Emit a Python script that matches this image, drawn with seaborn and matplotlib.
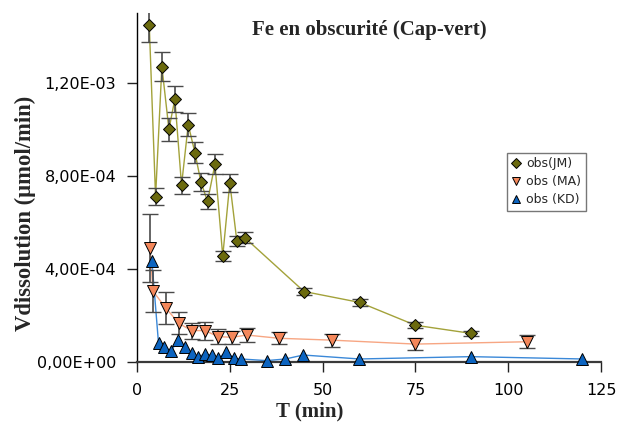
import matplotlib
matplotlib.use("Agg")
import matplotlib.pyplot as plt
import seaborn as sns
import pandas as pd
from matplotlib.ticker import FuncFormatter

# --- data (T in min, dissolution rate in µmol/min) ---
t_jm = [3.3, 5.0, 6.7, 8.6, 10.2, 12.0, 13.8, 15.6, 17.2, 19.0, 21.0, 23.1, 25.0, 26.9, 29.0, 45, 60, 75, 90]
v_jm = [14.5e-4, 7.1e-4, 12.7e-4, 10.0e-4, 11.3e-4, 7.6e-4, 10.2e-4, 9.0e-4, 7.75e-4, 6.9e-4,
        8.5e-4, 4.55e-4, 7.7e-4, 5.2e-4, 5.35e-4, 3.03e-4, 2.56e-4, 1.58e-4, 1.23e-4]
e_jm = [0.73e-4, 0.37e-4, 0.62e-4, 0.5e-4, 0.55e-4, 0.37e-4, 0.49e-4, 0.45e-4, 0.39e-4, 0.34e-4,
        0.42e-4, 0.22e-4, 0.4e-4, 0.23e-4, 0.24e-4, 0.17e-4, 0.15e-4, 0.13e-4, 0.11e-4]

t_ma = [3.5, 4.3, 7.7, 11.3, 14.7, 18.3, 21.9, 25.7, 29.5, 38.2, 52.4, 75.0, 105.0]
v_ma = [4.9e-4, 3.05e-4, 2.33e-4, 1.66e-4, 1.35e-4, 1.35e-4, 1.09e-4, 1.06e-4, 1.16e-4, 1.02e-4,
        0.94e-4, 0.77e-4, 0.87e-4]
e_ma = [1.48e-4, 0.9e-4, 0.69e-4, 0.47e-4, 0.34e-4, 0.39e-4, 0.32e-4, 0.29e-4, 0.32e-4, 0.26e-4,
        0.28e-4, 0.25e-4, 0.27e-4]

t_kd = [4.0, 5.8, 7.4, 9.2, 11.1, 12.9, 14.7, 16.5, 18.3, 20.1, 21.9, 24.1, 26.1, 28.0, 34.9,
        40.0, 44.8, 59.9, 89.9, 120.0]
v_kd = [4.35e-4, 0.8e-4, 0.63e-4, 0.48e-4, 0.94e-4, 0.65e-4, 0.37e-4, 0.23e-4, 0.34e-4, 0.3e-4,
        0.16e-4, 0.44e-4, 0.16e-4, 0.13e-4, 0.06e-4, 0.13e-4, 0.3e-4, 0.13e-4, 0.23e-4, 0.13e-4]

x_ticks = [0, 25, 50, 75, 100, 125]
y_ticks = [0, 4e-4, 8e-4, 12e-4]

sns.set_theme(style="ticks")
plt.rcParams["font.family"] = ["DejaVu Sans"]

fig = plt.figure(figsize=(6.17, 4.23), dpi=100)
ax = fig.add_axes([137 / 617, 1 - 362 / 423, 464 / 617, 349 / 423])

series = [
    ("obs(JM)", t_jm, v_jm, e_jm, "D", "#6b6a0e", "#a3a23a", 6.2),
    ("obs (MA)", t_ma, v_ma, e_ma, "v", "#f4875a", "#f7a683", 8.0),
    ("obs (KD)", t_kd, v_kd, None, "^", "#0c64c0", "#3a88d8", 8.0),
]

for label, t, v, e, mk, fc, lc, ms in series:
    df = pd.DataFrame({"T": t, "V": v})
    sns.lineplot(data=df, x="T", y="V", ax=ax, color=lc, lw=1.0, sort=False,
                 estimator=None, zorder=2)
    if e is not None:
        _, caps, bars = ax.errorbar(t, v, yerr=e, fmt="none", ecolor="#4a4a4a",
                                    elinewidth=1.2, capsize=5.5, capthick=1.0, zorder=3)
        for c in caps:
            c.set_color("black")
    ax.plot(t, v, linestyle="none", marker=mk, markersize=ms, markerfacecolor=fc,
            markeredgecolor="black", markeredgewidth=0.7, zorder=4, clip_on=False,
            label=label)

ax.set_xlim(0, 125)
ax.set_ylim(0, 1.5e-3)
ax.set_xticks(x_ticks)
ax.set_yticks(y_ticks)
ax.yaxis.set_major_formatter(FuncFormatter(lambda v, p: f"{v:.2E}".replace(".", ",")))
ax.tick_params(axis="both", direction="out", length=7, width=1, color="#222222",
               labelsize=11.5, labelcolor="black", pad=8)

for s in ("top", "right"):
    ax.spines[s].set_visible(False)
ax.spines["left"].set_color("black")
ax.spines["left"].set_linewidth(1.0)
ax.spines["bottom"].set_color("#3a3a3a")
ax.spines["bottom"].set_linewidth(1.6)
ax.set_xlabel("")
ax.set_ylabel("")

fig.text(369 / 617, 1 - 30 / 423, "Fe en obscurité (Cap-vert)", ha="center", va="center",
         fontsize=15, fontweight="bold", family="Liberation Serif")
fig.text(310 / 617, 1 - 411 / 423, "T (min)", ha="center", va="center",
         fontsize=15, fontweight="bold", family="Liberation Serif")
fig.text(25 / 617, 1 - 213 / 423, "Vdissolution (µmol/min)", ha="center", va="center",
         rotation=90, fontsize=16.3, fontweight="bold", family="Liberation Serif")

leg = ax.legend(loc="upper left", bbox_to_anchor=(0.797, 0.599), borderaxespad=0,
                fontsize=9, frameon=True, fancybox=False, handlelength=0.8,
                handletextpad=0.4, borderpad=0.35, labelspacing=0.4, markerscale=0.75)
leg.get_frame().set_edgecolor("#555555")
leg.get_frame().set_linewidth(1.0)

fig.savefig("out.png", dpi=100)
